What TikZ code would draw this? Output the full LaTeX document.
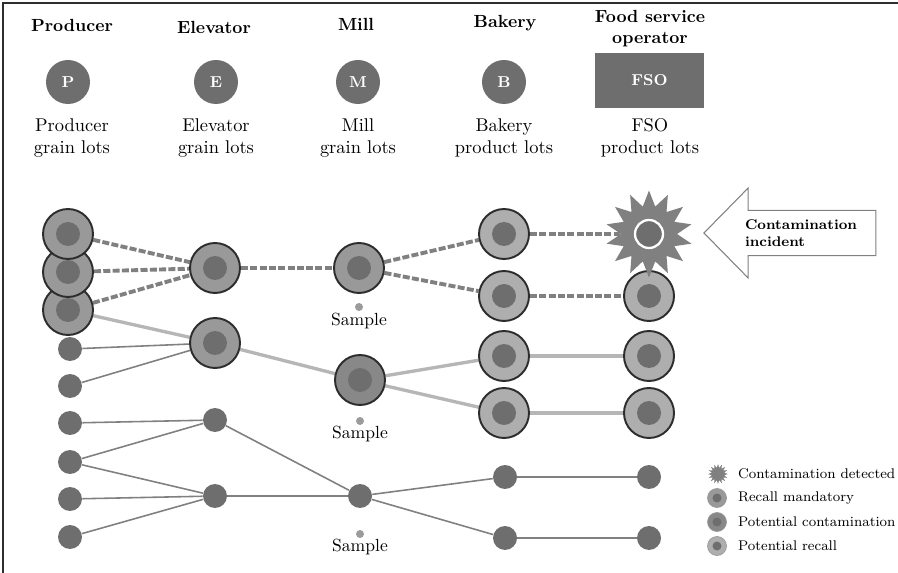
\documentclass[tikz,border=0pt]{standalone}
\usepackage{tikz}
\usetikzlibrary{positioning,shapes.geometric,shapes.arrows,backgrounds}
\definecolor{lotgray}{RGB}{153,153,153}
\definecolor{lotlight}{RGB}{174,174,174}
\definecolor{lotdark}{RGB}{136,136,136}
\definecolor{coregray}{RGB}{110,110,110}
\definecolor{rimgray}{RGB}{45,45,45}
\definecolor{linkgray}{RGB}{128,128,128}
\definecolor{palegray}{RGB}{182,182,182}
\tikzset{
  frame/.style={draw=rimgray, line width=1.1pt},
  hdr/.style={font=\bfseries, align=center, inner sep=1pt},
  sub/.style={font=\fontsize{10.5}{12.5}\selectfont, align=center, inner sep=1pt},
  actor/.style={circle, fill=coregray, minimum size=0.88cm, inner sep=0pt,
                text=white, font=\small\bfseries},
  core/.style={path picture={\fill[coregray] (path picture bounding box.center) circle (#1);}},
  biglot/.style={circle, draw=rimgray, line width=1.1pt, minimum size=1cm,
                 inner sep=0pt, core=0.24cm},
  recall/.style={biglot, fill=lotgray},
  potrecall/.style={biglot, fill=lotlight},
  potcont/.style={biglot, fill=lotdark},
  lot/.style={circle, fill=coregray, minimum size=0.48cm, inner sep=0pt},
  detected/.style={star, star points=14, star point ratio=1.55, minimum size=1.74cm,
                   inner sep=0pt, fill=linkgray,
                   path picture={\draw[white, line width=1.3pt, fill=coregray]
                     (path picture bounding box.center) circle (0.28cm);}},
  sampledot/.style={circle, fill=palegray!85!black, minimum size=0.16cm, inner sep=0pt},
  samplelbl/.style={inner sep=1pt},
  mandlink/.style={draw=linkgray, line width=2.2pt, dash pattern=on 4pt off 1.3pt},
  potlink/.style={draw=palegray, line width=1.9pt},
  plainlink/.style={draw=linkgray, line width=0.9pt},
  incident/.style={single arrow, shape border rotate=180, draw=gray, fill=white,
                   line width=0.6pt, minimum height=3.44cm, minimum width=1.8cm,
                   single arrow head extend=0.4cm, single arrow tip angle=91,
                   font=\fontsize{8}{10}\selectfont\bfseries, align=left},
  lgicon/.style={circle, minimum size=0.38cm, inner sep=0pt, draw=gray!80, core=0.09cm},
  lgtext/.style={anchor=west, font=\fontsize{8}{10}\selectfont, inner sep=1pt}
}
\begin{document}
\begin{tikzpicture}[x=0.02cm, y=-0.02cm]
\useasboundingbox (0,0) rectangle (898,573);
\draw[frame] (3,573) -- (3,3) -- (898,3);

% stages
\node[hdr] (hprod) at (72,25) {Producer};
\node[hdr] (helev) at (214,27) {Elevator};
\node[hdr] (hmill) at (356,24) {Mill};
\node[hdr] (hbake) at (505,23) {Bakery};
\node[hdr] (hfso) at (650,29) {Food service\\operator};
\node[actor] (P) at (68,82) {P};
\node[actor] (E) at (216,82) {E};
\node[actor] (M) at (358,82) {M};
\node[actor] (B) at (504,82) {B};
\node[fill=coregray, minimum width=2.18cm, minimum height=1.1cm, text=white,
      font=\small\bfseries] (FSO) at (649.5,80.5) {FSO};
\node[sub] (lprod) at (72,138) {Producer\\grain lots};
\node[sub] (lelev) at (216,138) {Elevator\\grain lots};
\node[sub] (lmill) at (358,138) {Mill\\grain lots};
\node[sub] (lbake) at (504,138) {Bakery\\product lots};
\node[sub] (lfso) at (650,138) {FSO\\product lots};

% producer lots
\node[recall] (p3) at (68,310) {};
\node[recall] (p2) at (68,272) {};
\node[recall] (p1) at (68,234) {};
\node[lot] (p4) at (70,349) {};
\node[lot] (p5) at (70,386) {};
\node[lot] (p6) at (70,423) {};
\node[lot] (p7) at (70,462) {};
\node[lot] (p8) at (70,499) {};
\node[lot] (p9) at (70,537) {};
% elevator lots
\node[recall] (e1) at (215,268) {};
\node[recall] (e2) at (215,343) {};
\node[lot] (e3) at (215,420) {};
\node[lot] (e4) at (215,496) {};
% mill lots
\node[recall] (m1) at (359,268) {};
\node[potcont] (m2) at (360,380) {};
\node[lot] (m3) at (360,496) {};
\node[sampledot] (s1) at (359,307) {};
\node[sampledot] (s2) at (360,421) {};
\node[sampledot] (s3) at (360,534) {};
\node[samplelbl] (t1) at (359,321) {Sample};
\node[samplelbl] (t2) at (360,434) {Sample};
\node[samplelbl] (t3) at (360,547) {Sample};
% bakery lots
\node[potrecall] (b1) at (504,234) {};
\node[potrecall] (b2) at (504,296) {};
\node[potrecall] (b3) at (504,356) {};
\node[potrecall] (b4) at (504,413) {};
\node[lot] (b5) at (505,477) {};
\node[lot] (b6) at (505,538) {};
% fso lots
\node[potrecall] (f2) at (649,296) {};
\node[potrecall] (f3) at (649,356) {};
\node[potrecall] (f4) at (649,413) {};
\node[lot] (f5) at (649,477) {};
\node[lot] (f6) at (649,538) {};
\node[detected] (f1) at (649,234) {};

\node[incident] (inc) at (801,233) {Contamination\\incident};

\begin{scope}[on background layer]
  \draw[mandlink] (p1) -- (e1);
  \draw[mandlink] (p2) -- (e1);
  \draw[mandlink] (p3) -- (e1);
  \draw[mandlink] (e1) -- (m1);
  \draw[mandlink] (m1) -- (b1);
  \draw[mandlink] (m1) -- (b2);
  \draw[mandlink] (b1) -- (f1);
  \draw[mandlink] (b2) -- (f2);
  \draw[potlink] (p3) -- (e2);
  \draw[potlink] (e2) -- (m2);
  \draw[potlink] (m2) -- (b3);
  \draw[potlink] (m2) -- (b4);
  \draw[potlink] (b3) -- (f3);
  \draw[potlink] (b4) -- (f4);
  \draw[plainlink] (p4) -- (e2);
  \draw[plainlink] (p5) -- (e2);
  \draw[plainlink] (p6) -- (e3);
  \draw[plainlink] (p7) -- (e3);
  \draw[plainlink] (p7) -- (e4);
  \draw[plainlink] (p8) -- (e4);
  \draw[plainlink] (p9) -- (e4);
  \draw[plainlink] (e3) -- (m3);
  \draw[plainlink] (e4) -- (m3);
  \draw[plainlink] (m3) -- (b5);
  \draw[plainlink] (m3) -- (b6);
  \draw[plainlink] (b5) -- (f5);
  \draw[plainlink] (b6) -- (f6);
\end{scope}

% legend
\node[star, star points=16, star point ratio=1.6, minimum size=0.4cm, inner sep=0pt,
      fill=linkgray] (k1) at (718,474) {};
\node[lgicon, fill=lotgray] (k2) at (717,498) {};
\node[lgicon, fill=lotdark] (k3) at (717,522) {};
\node[lgicon, fill=lotlight] (k4) at (717,546) {};
\node[lgtext] (k1t) at (736,474) {Contamination detected};
\node[lgtext] (k2t) at (736,498) {Recall mandatory};
\node[lgtext] (k3t) at (736,522) {Potential contamination};
\node[lgtext] (k4t) at (736,546) {Potential recall};
\end{tikzpicture}
\end{document}
